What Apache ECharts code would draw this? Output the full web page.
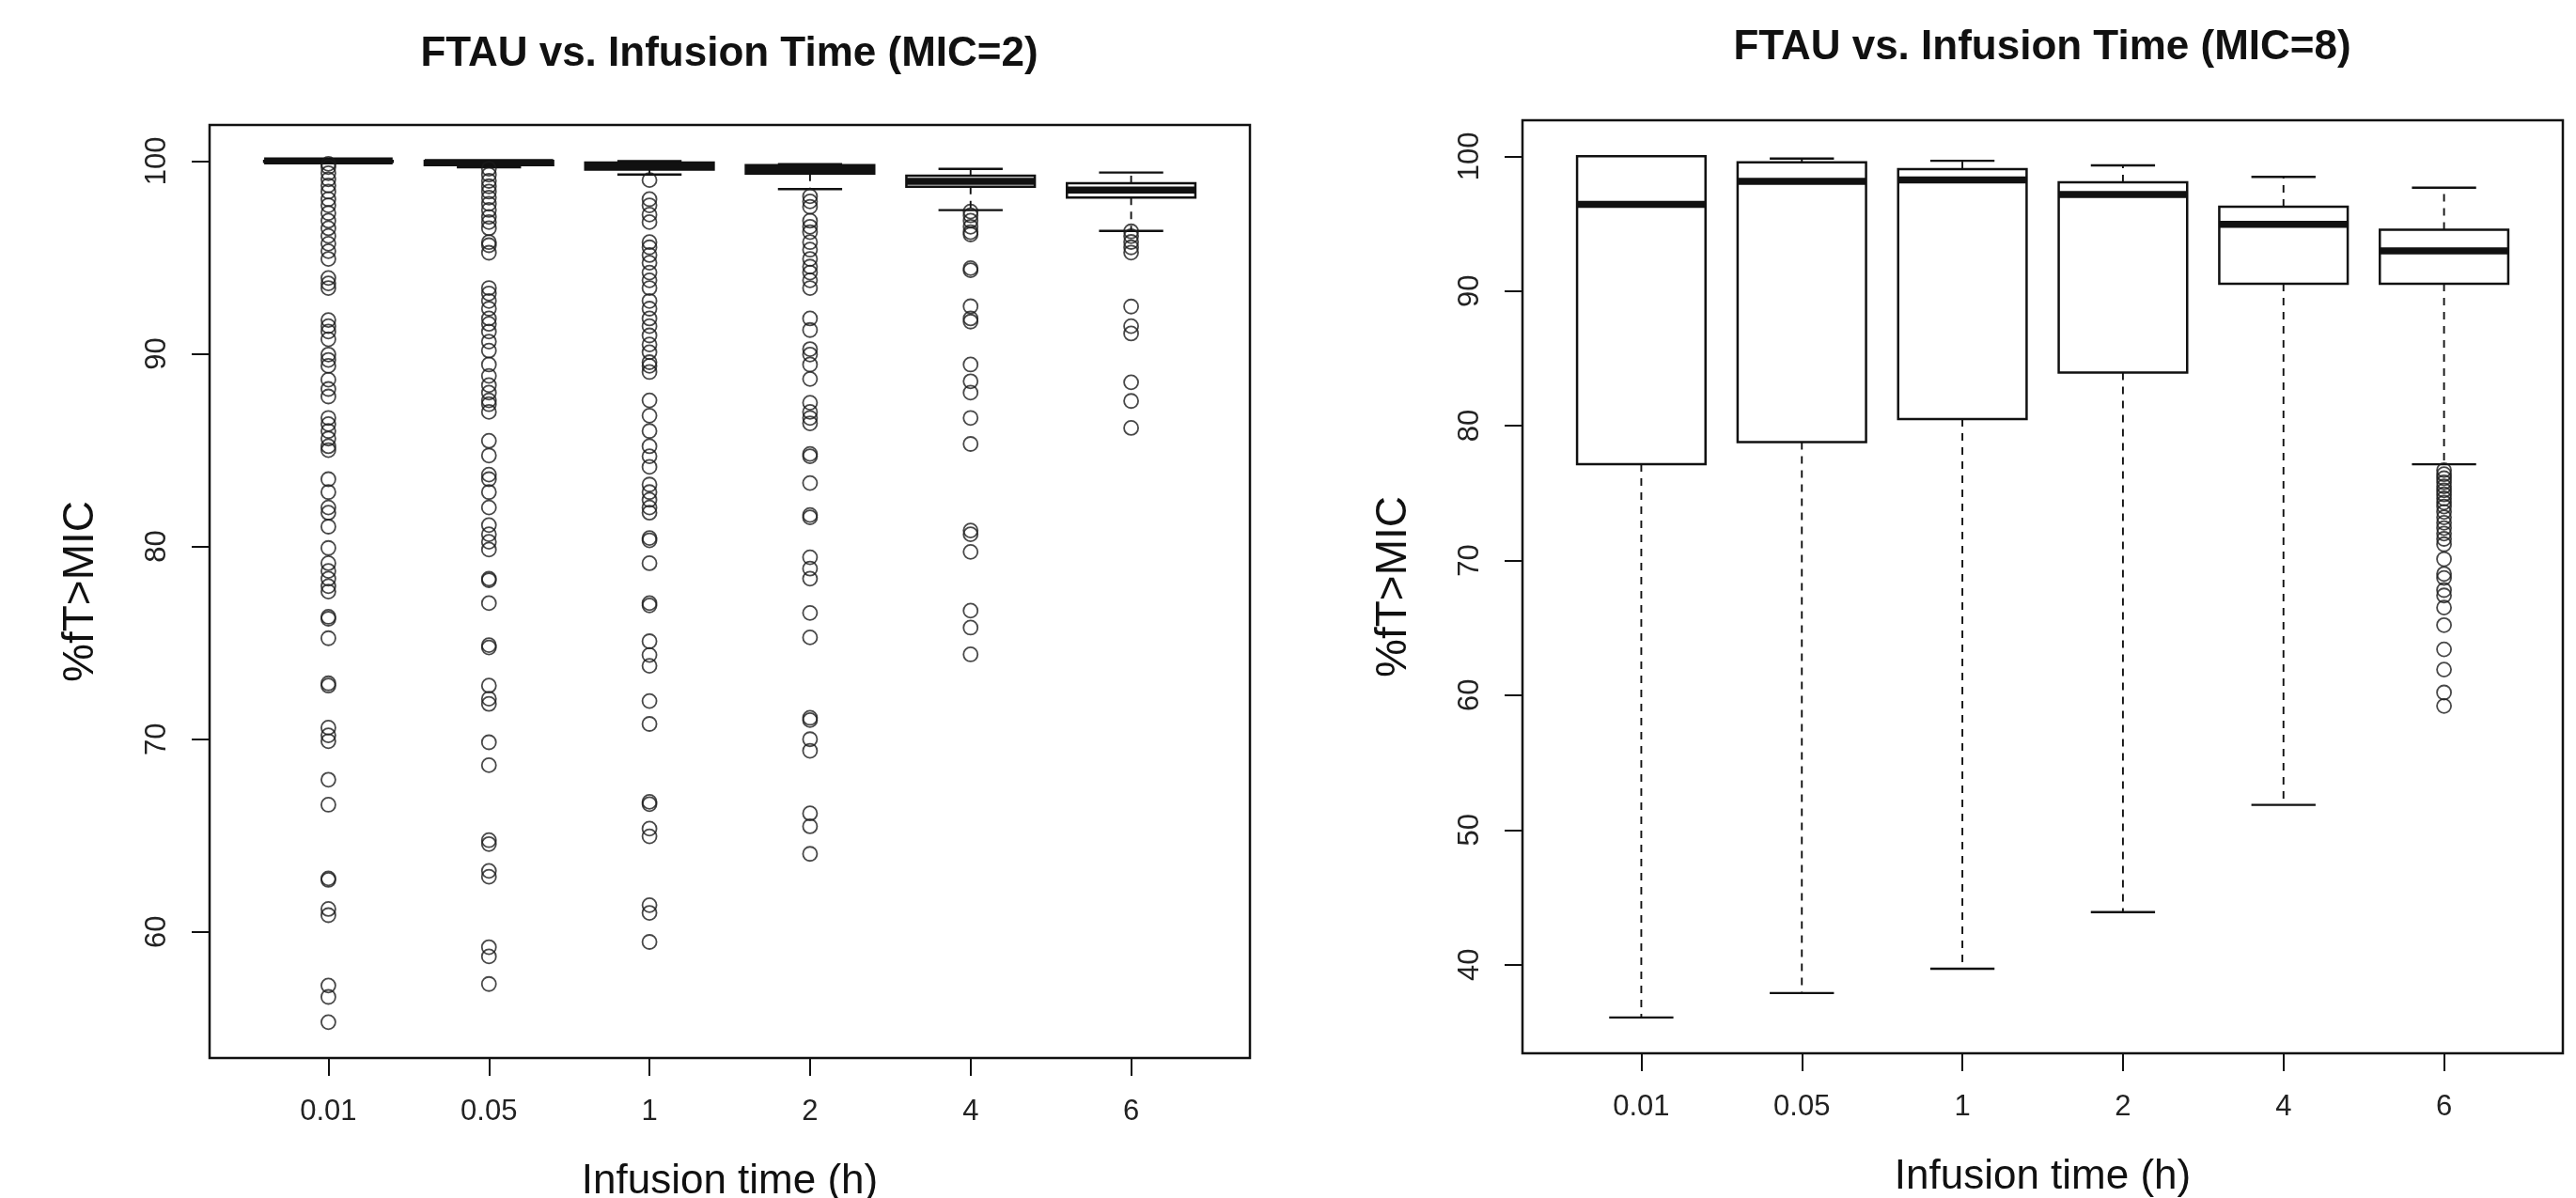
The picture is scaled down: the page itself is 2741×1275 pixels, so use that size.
<!DOCTYPE html>
<html>
<head>
<meta charset="utf-8">
<script src="https://cdn.jsdelivr.net/npm/echarts@6/dist/echarts.min.js"></script>
<style>
html, body { margin: 0; padding: 0; background: #fff; }
#main { width: 2741px; height: 1275px; }
</style>
</head>
<body>
<div id="main"></div>
<script>
var categories = ['0.01', '0.05', '1', '2', '4', '6'];
var mic2Ticks = [60, 70, 80, 90, 100];
var mic8Ticks = [40, 50, 60, 70, 80, 90, 100];

// MIC=2 box stats
var mic2Lower  = [99.95, 99.67, 99.30, 98.54, 97.45, 96.37];
var mic2Q1     = [99.96, 99.78, 99.55, 99.35, 98.67, 98.10];
var mic2Median = [100.0, 99.92, 99.75, 99.55, 98.95, 98.49];
var mic2Q3     = [100.0, 100.0, 99.92, 99.78, 99.24, 98.85];
var mic2Upper  = [100.0, 100.0, 100.0, 99.84, 99.59, 99.40];

// MIC=2 outliers, one list per infusion time
var mic2Out001 = [99.85, 99.68, 99.37, 99.05, 98.73, 98.41, 98.02, 97.70, 97.30, 96.90, 96.51, 96.11, 95.71, 95.32, 94.92,
  93.93, 93.65, 93.41, 91.75, 91.43, 91.15, 90.75, 89.96, 89.68, 89.37, 88.65, 88.17, 87.78, 86.67, 86.35, 85.99, 85.60,
  85.20, 85.00, 83.49, 82.82, 82.02, 81.75, 81.03, 79.92, 79.13, 78.73, 78.33, 77.94, 77.66, 76.35, 76.25, 75.24, 72.90,
  72.78, 70.60, 70.20, 69.90, 67.90, 66.60, 62.78, 62.70, 61.19, 60.87, 57.22, 56.63, 55.32];
var mic2Out005 = [99.60, 99.29, 98.97, 98.69, 98.41, 98.10, 97.78, 97.46, 97.10, 96.83, 96.51, 95.79, 95.63, 95.24, 93.41,
  93.13, 92.74, 92.34, 91.83, 91.55, 91.15, 90.63, 90.16, 89.44, 88.85, 88.37, 87.98, 87.58, 87.38, 86.98, 85.48, 84.72,
  83.73, 83.49, 82.82, 82.02, 81.11, 80.63, 80.24, 79.84, 78.33, 78.25, 77.06, 74.88, 74.76, 72.78, 72.10, 71.83, 69.84,
  68.65, 64.76, 64.56, 63.17, 62.86, 59.21, 58.73, 57.30];
var mic2Out1 = [99.01, 98.02, 97.70, 97.22, 96.83, 95.79, 95.52, 95.12, 94.72, 94.21, 93.81, 93.41, 92.74, 92.34, 91.83,
  91.43, 90.95, 90.48, 90.08, 89.56, 89.37, 89.05, 87.58, 86.79, 85.99, 85.20, 84.68, 84.13, 83.21, 82.82, 82.42, 82.02,
  81.75, 80.44, 80.32, 79.13, 77.06, 76.94, 75.08, 74.37, 73.81, 71.98, 70.79, 66.75, 66.63, 65.36, 64.96, 61.39, 60.99,
  59.48];
var mic2Out2 = [98.17, 97.90, 97.62, 96.90, 96.59, 96.31, 95.79, 95.40, 94.92, 94.52, 94.21, 93.81, 93.41, 91.83, 91.23,
  90.24, 89.96, 89.44, 88.69, 87.46, 86.98, 86.67, 86.39, 84.80, 84.68, 83.29, 81.63, 81.51, 79.44, 78.85, 78.33, 76.55,
  75.28, 71.11, 70.99, 70.00, 69.40, 66.15, 65.48, 64.05];
var mic2Out4 = [97.38, 97.18, 96.90, 96.59, 96.31, 96.19, 94.44, 94.33, 92.46, 91.83, 91.67, 89.44, 88.57, 87.98, 86.67,
  85.32, 80.83, 80.63, 79.72, 76.67, 75.79, 74.40];
var mic2Out6 = [96.35, 96.10, 95.80, 95.52, 95.25, 92.45, 91.43, 91.05, 88.52, 87.55, 86.15];

// MIC=8 box stats
var mic8Lower  = [36.08, 37.89, 39.70, 43.90, 51.86, 77.14];
var mic8Q1     = [77.14, 78.79, 80.49, 83.95, 90.53, 90.53];
var mic8Median = [96.43, 98.13, 98.24, 97.16, 94.95, 92.97];
var mic8Q3     = [100.0, 99.55, 99.04, 98.07, 96.26, 94.55];
var mic8Upper  = [100.0, 99.83, 99.66, 99.32, 98.47, 97.67];

// MIC=8 outliers (only the 6 h arm has any)
var mic8Out6 = [76.70, 76.40, 76.10, 75.80, 75.50, 75.20, 74.90, 74.60, 74.30, 74.00, 73.60, 73.20, 72.80, 72.40, 72.00,
  71.60, 71.20, 70.10, 69.00, 68.70, 67.80, 67.40, 66.50, 65.20, 63.40, 61.90, 60.20, 59.20];

var FONT = "'Liberation Sans', Arial, sans-serif";

function boxRows(lo, q1, md, q3, hi) {
  return categories.map(function (c, i) {
    return [i + 1, lo[i], q1[i], md[i], q3[i], hi[i]];
  });
}

function outlierPoints(groups) {
  var pts = [];
  groups.forEach(function (vals, i) {
    if (!vals) return;
    vals.forEach(function (v) { pts.push([i + 1, v]); });
  });
  return pts;
}

function renderBox(params, api) {
  var x = api.value(0);
  var pLo = api.coord([x, api.value(1)]);
  var pQ1 = api.coord([x, api.value(2)]);
  var pMd = api.coord([x, api.value(3)]);
  var pQ3 = api.coord([x, api.value(4)]);
  var pHi = api.coord([x, api.value(5)]);
  var halfBox = api.size([0.4, 0])[0];
  var halfCap = api.size([0.2, 0])[0];
  var cx = pMd[0];
  var ink = '#111';
  var dash = { stroke: ink, lineWidth: 1.9, lineDash: [8, 7] };
  var solid = { stroke: ink, lineWidth: 2.4 };
  return {
    type: 'group',
    children: [
      { type: 'line', shape: { x1: cx, y1: pQ3[1], x2: cx, y2: pHi[1] }, style: dash },
      { type: 'line', shape: { x1: cx, y1: pQ1[1], x2: cx, y2: pLo[1] }, style: dash },
      { type: 'line', shape: { x1: cx - halfCap, y1: pHi[1], x2: cx + halfCap, y2: pHi[1] }, style: solid },
      { type: 'line', shape: { x1: cx - halfCap, y1: pLo[1], x2: cx + halfCap, y2: pLo[1] }, style: solid },
      { type: 'rect', shape: { x: cx - halfBox, y: pQ3[1], width: halfBox * 2, height: pQ1[1] - pQ3[1] },
        style: { fill: '#fff', stroke: ink, lineWidth: 2.5 } },
      { type: 'line', shape: { x1: cx - halfBox, y1: pMd[1], x2: cx + halfBox, y2: pMd[1] },
        style: { stroke: ink, lineWidth: 7.5 } }
    ]
  };
}

function xAxisFor(gridIndex) {
  return {
    type: 'value', gridIndex: gridIndex, min: 0.26, max: 6.74,
    name: 'Infusion time (h)', nameLocation: 'middle', nameGap: 110,
    nameTextStyle: { fontFamily: FONT, fontSize: 44, color: '#111' },
    axisLine: { show: false },
    axisTick: { show: true, length: 19, customValues: [1, 2, 3, 4, 5, 6], lineStyle: { color: '#111', width: 2 } },
    axisLabel: {
      customValues: [1, 2, 3, 4, 5, 6], margin: 42,
      fontFamily: FONT, fontSize: 31, color: '#222',
      formatter: function (v) { return categories[Math.round(v) - 1]; }
    },
    splitLine: { show: false }
  };
}

function yAxisFor(gridIndex, min, max, ticks) {
  return {
    type: 'value', gridIndex: gridIndex, min: min, max: max,
    name: '%fT>MIC', nameLocation: 'middle', nameGap: 114,
    nameTextStyle: { fontFamily: FONT, fontSize: 46, color: '#111' },
    axisLine: { show: false },
    axisTick: { show: true, length: 19, customValues: ticks, lineStyle: { color: '#111', width: 2 } },
    axisLabel: {
      customValues: ticks, rotate: 90, margin: 40,
      fontFamily: FONT, fontSize: 31, color: '#222'
    },
    splitLine: { show: false }
  };
}

var circleStyle = { color: 'rgba(0,0,0,0)', borderColor: '#1a1a1a', borderWidth: 1.8 };

var option = {
  backgroundColor: '#fff',
  animation: false,
  title: [
    { text: 'FTAU vs. Infusion Time (MIC=2)', left: 776, top: 36, textAlign: 'center', padding: 0,
      textStyle: { fontFamily: FONT, fontSize: 44, fontWeight: 'bold', color: '#111' } },
    { text: 'FTAU vs. Infusion Time (MIC=8)', left: 2173, top: 29, textAlign: 'center', padding: 0,
      textStyle: { fontFamily: FONT, fontSize: 44, fontWeight: 'bold', color: '#111' } }
  ],
  grid: [
    { left: 223, top: 133, width: 1107, height: 993, outerBoundsMode: 'none', containLabel: false,
      show: true, borderColor: '#111', borderWidth: 2.5 },
    { left: 1620, top: 128, width: 1107, height: 993, outerBoundsMode: 'none', containLabel: false,
      show: true, borderColor: '#111', borderWidth: 2.5 }
  ],
  xAxis: [xAxisFor(0), xAxisFor(1)],
  yAxis: [yAxisFor(0, 53.46, 101.87, mic2Ticks), yAxisFor(1, 33.42, 102.67, mic8Ticks)],
  series: [
    {
      type: 'custom', xAxisIndex: 0, yAxisIndex: 0, renderItem: renderBox,
      encode: { x: 0, y: [1, 2, 3, 4, 5] },
      data: boxRows(mic2Lower, mic2Q1, mic2Median, mic2Q3, mic2Upper)
    },
    {
      type: 'scatter', xAxisIndex: 0, yAxisIndex: 0, symbol: 'circle', symbolSize: 15,
      itemStyle: circleStyle,
      data: outlierPoints([mic2Out001, mic2Out005, mic2Out1, mic2Out2, mic2Out4, mic2Out6])
    },
    {
      type: 'custom', xAxisIndex: 1, yAxisIndex: 1, renderItem: renderBox,
      encode: { x: 0, y: [1, 2, 3, 4, 5] },
      data: boxRows(mic8Lower, mic8Q1, mic8Median, mic8Q3, mic8Upper)
    },
    {
      type: 'scatter', xAxisIndex: 1, yAxisIndex: 1, symbol: 'circle', symbolSize: 15,
      itemStyle: circleStyle,
      data: outlierPoints([null, null, null, null, null, mic8Out6])
    }
  ]
};

var myChart = echarts.init(document.getElementById('main'));
myChart.setOption(option);
</script>
</body>
</html>
